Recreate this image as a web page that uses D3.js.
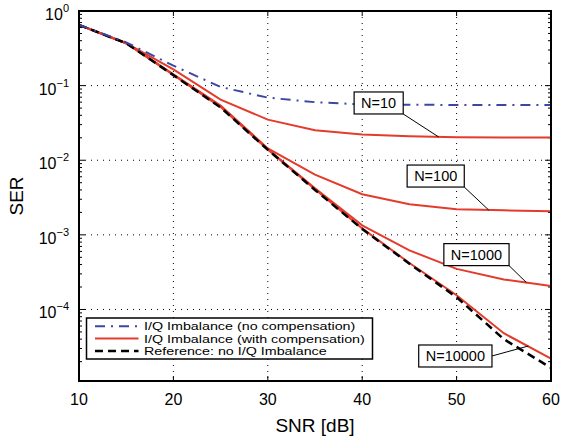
<!DOCTYPE html>
<html>
<head>
<meta charset="utf-8">
<script src="https://cdn.jsdelivr.net/npm/d3@7"></script>
<style>
  body { margin: 0; background: #fff; }
  svg { font-family: "Liberation Sans", Arial, Helvetica, sans-serif; }
</style>
</head>
<body>
<div id="chart"></div>
<script>
// SNR points (dB)
const snr = [10, 15, 20, 25, 30, 35, 40, 45, 50, 55, 60];

// SER curves
const serNoComp = [0.65, 0.38, 0.185, 0.096, 0.069, 0.060, 0.056, 0.0555, 0.055, 0.055, 0.055];
const serN10 = [0.65, 0.37, 0.165, 0.065, 0.035, 0.0253, 0.0221, 0.021, 0.0204, 0.0202, 0.0201];
const serN100 = [0.65, 0.37, 0.142, 0.054, 0.0144, 0.0064, 0.0035, 0.00257, 0.0022, 0.00213, 0.00207];
const serN1000 = [0.65, 0.37, 0.14, 0.052, 0.014, 0.0042, 0.00134, 0.00062, 0.00035, 0.000253, 0.000206];
const serN10000 = [0.65, 0.37, 0.139, 0.052, 0.0139, 0.0041, 0.00122, 0.00042, 0.000155, 0.000048, 0.000022];
const serRef = [0.65, 0.37, 0.138, 0.051, 0.0138, 0.004, 0.0012, 0.00041, 0.000146, 0.00004, 0.0000165];

// tick labels
const xTicks = [10, 20, 30, 40, 50, 60];
const yExps = [0, -1, -2, -3, -4];

// legend entries
const legendLabels = [
  "I/Q Imbalance (no compensation)",
  "I/Q Imbalance (with compensation)",
  "Reference: no I/Q Imbalance"
];

// annotation labels and where they point (SNR, SER)
const annotLabels = ["N=10", "N=100", "N=1000", "N=10000"];
const annotSnr = [48.1, 53.4, 57.4, 57.6];
const annotSer = [0.0205, 0.00215, 0.000229, 0.0000324];

const RED = "#e33b2c", BLUE = "#3b47a3";

const margin = { top: 11, right: 10, bottom: 60, left: 79 },
  width = 561 - margin.left - margin.right,
  height = 441 - margin.top - margin.bottom;

const svg = d3.select("#chart")
  .append("svg")
  .attr("width", 561)
  .attr("height", 441);

const g = svg.append("g")
  .attr("transform", `translate(${margin.left}, ${margin.top})`);

const x = d3.scaleLinear().domain([10, 60]).range([0, width]);
const y = d3.scaleLog().domain([1.1e-5, 1]).range([height, 0]);

// dotted grid
g.selectAll(".gx")
  .data(xTicks.slice(1, -1))
  .join("line")
  .attr("x1", d => x(d)).attr("x2", d => x(d))
  .attr("y1", 0).attr("y2", height)
  .attr("stroke", "#000").attr("stroke-width", 1)
  .attr("stroke-dasharray", "1,5");

g.selectAll(".gy")
  .data(yExps.slice(1))
  .join("line")
  .attr("x1", 0).attr("x2", width)
  .attr("y1", d => y(Math.pow(10, d))).attr("y2", d => y(Math.pow(10, d)))
  .attr("stroke", "#000").attr("stroke-width", 1)
  .attr("stroke-dasharray", "1,5");

// inward ticks, x on bottom and top
const ticks = g.append("g").attr("stroke", "#000").attr("stroke-width", 1);
xTicks.forEach(t => {
  ticks.append("line").attr("x1", x(t)).attr("x2", x(t)).attr("y1", height).attr("y2", height - 5);
  ticks.append("line").attr("x1", x(t)).attr("x2", x(t)).attr("y1", 0).attr("y2", 5);
});

// log ticks on left and right (minor 2..9)
for (let e = -5; e <= 0; e++) {
  for (let m = 1; m <= 9; m++) {
    const v = m * Math.pow(10, e);
    if (v < y.domain()[0] || v > 1) continue;
    const len = m === 1 ? 6 : 3;
    ticks.append("line").attr("x1", 0).attr("x2", len).attr("y1", y(v)).attr("y2", y(v));
    ticks.append("line").attr("x1", width).attr("x2", width - len).attr("y1", y(v)).attr("y2", y(v));
  }
}

// curves
g.append("clipPath").attr("id", "clip")
  .append("rect").attr("width", width).attr("height", height);

const line = d3.line()
  .x((d, i) => x(snr[i]))
  .y(d => y(d));

const curves = g.append("g").attr("clip-path", "url(#clip)");

[serN10, serN100, serN1000, serN10000].forEach(s => {
  curves.append("path")
    .datum(s)
    .attr("fill", "none")
    .attr("stroke", RED)
    .attr("stroke-width", 2)
    .attr("d", line);
});

curves.append("path")
  .datum(serRef)
  .attr("fill", "none")
  .attr("stroke", "#000")
  .attr("stroke-width", 2.5)
  .attr("stroke-dasharray", "8,5")
  .attr("d", line);

curves.append("path")
  .datum(serNoComp)
  .attr("fill", "none")
  .attr("stroke", BLUE)
  .attr("stroke-width", 2)
  .attr("stroke-dasharray", "10,6,2,6")
  .attr("d", line);

// plot border
g.append("rect")
  .attr("width", width).attr("height", height)
  .attr("fill", "none").attr("stroke", "#000").attr("stroke-width", 2);

// tick labels
g.selectAll(".xl")
  .data(xTicks)
  .join("text")
  .attr("x", d => x(d))
  .attr("y", height + 24)
  .attr("text-anchor", "middle")
  .style("font-size", "16px")
  .text(d => d);

yExps.forEach(e => {
  const t = g.append("text")
    .attr("x", -10)
    .attr("y", y(Math.pow(10, e)) + 9)
    .attr("text-anchor", "end")
    .style("font-size", "16px");
  t.append("tspan").text("10");
  t.append("tspan")
    .attr("dy", -8)
    .style("font-size", "11px")
    .text(e === 0 ? "0" : "\u2212" + (-e));
});

// axis labels
g.append("text")
  .attr("x", width / 2)
  .attr("y", height + 51)
  .attr("text-anchor", "middle")
  .style("font-size", "19px")
  .text("SNR [dB]");

g.append("text")
  .attr("transform", `translate(${-margin.left + 23}, ${height / 2}) rotate(-90)`)
  .attr("text-anchor", "middle")
  .style("font-size", "19px")
  .text("SER");

// annotations: box offset from target point, leader line from box corner
const boxOffsets = [[-60, -34], [-53, -34], [-50, -28], [-73, 10]];
const leaderFrom = ["br", "br", "br", "r"];

annotLabels.forEach((lab, i) => {
  const tx = x(annotSnr[i]), ty = y(annotSer[i]);
  const cx = tx + boxOffsets[i][0], cy = ty + boxOffsets[i][1];
  const a = g.append("g");
  const rect = a.append("rect");
  const txt = a.append("text")
    .attr("x", cx).attr("y", cy + 5)
    .attr("text-anchor", "middle")
    .style("font-size", "14.5px")
    .text(lab);
  const w = txt.node().getComputedTextLength() + 14, h = 22;
  rect.attr("x", cx - w / 2).attr("y", cy - h / 2)
    .attr("width", w).attr("height", h)
    .attr("fill", "#fff").attr("stroke", "#000").attr("stroke-width", 1.2);
  const sx = cx + w / 2, sy = leaderFrom[i] === "br" ? cy + h / 2 : cy;
  a.insert("line", "rect")
    .attr("x1", sx).attr("y1", sy).attr("x2", tx).attr("y2", ty)
    .attr("stroke", "#000").attr("stroke-width", 1);
});

// legend
const lg = g.append("g").attr("transform", `translate(${86.5 - margin.left}, ${318 - margin.top})`);
lg.append("rect")
  .attr("width", 286).attr("height", 41)
  .attr("fill", "#fff").attr("stroke", "#000").attr("stroke-width", 1.5);

const legendStyles = [
  { color: BLUE, dash: "10,6,2,6", w: 2 },
  { color: RED, dash: null, w: 2 },
  { color: "#000", dash: "8,5", w: 2.5 }
];

legendLabels.forEach((lab, i) => {
  const ry = 8.3 + i * 12.3;
  lg.append("line")
    .attr("x1", 8.5).attr("x2", 52)
    .attr("y1", ry).attr("y2", ry)
    .attr("stroke", legendStyles[i].color)
    .attr("stroke-width", legendStyles[i].w)
    .attr("stroke-dasharray", legendStyles[i].dash);
  // text is drawn a little wide, like the original
  lg.append("text")
    .attr("transform", `translate(57.5, ${ry + 4}) scale(1.3, 1)`)
    .style("font-size", "11px")
    .text(lab);
});
</script>
</body>
</html>
